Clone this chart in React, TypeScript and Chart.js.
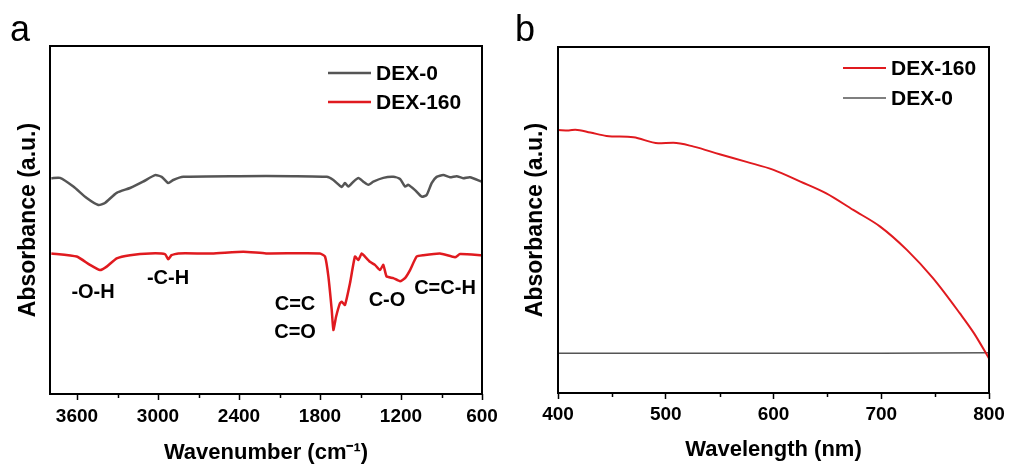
import React, { useEffect, useRef } from "react";
import { Chart, registerables } from "chart.js";

Chart.register(...registerables);

// ---------- Panel a: FTIR ----------
const dex0Wavenumbers = [3790, 3726, 3627, 3528, 3442, 3393, 3306, 3207, 3111, 3022, 2973, 2924, 2887, 2813, 2400, 2000, 1750, 1701, 1639, 1615, 1590, 1553, 1516, 1479, 1442, 1405, 1331, 1257, 1207, 1170, 1146, 1096, 1047, 1010, 973, 936, 887, 837, 788, 739, 690, 600];
const dex0Absorbance = [62.0, 62.1, 59.6, 56.3, 54.3, 54.9, 57.8, 59.2, 61.0, 62.9, 62.4, 60.6, 61.5, 62.4, 62.6, 62.6, 62.4, 61.5, 59.5, 60.6, 59.6, 61.0, 62.1, 61.0, 60.1, 61.0, 62.1, 62.4, 61.8, 59.6, 60.1, 58.6, 56.7, 57.2, 60.6, 62.4, 62.9, 62.3, 62.6, 62.0, 62.3, 61.0];

const dex160Wavenumbers = [3790, 3602, 3504, 3430, 3380, 3306, 3207, 3059, 2948, 2924, 2900, 2850, 2600, 2368, 2200, 1800, 1763, 1738, 1713, 1701, 1681, 1652, 1640, 1615, 1578, 1541, 1516, 1491, 1467, 1430, 1393, 1356, 1331, 1307, 1257, 1207, 1170, 1133, 1084, 1035, 911, 800, 763, 600];
const dex160Absorbance = [40.4, 39.5, 37.1, 35.6, 36.6, 39.0, 39.9, 40.4, 40.2, 38.7, 39.9, 40.4, 40.4, 40.9, 40.4, 40.4, 39.5, 33.8, 24.1, 18.4, 22.2, 26.1, 26.5, 25.6, 31.8, 39.5, 38.5, 40.4, 39.5, 38.0, 37.1, 35.6, 37.1, 33.8, 33.3, 32.4, 33.3, 35.6, 39.5, 39.9, 40.4, 39.3, 40.2, 39.9];

const ftirMajorTicks = [3600, 3000, 2400, 1800, 1200, 600];
const ftirMinorTicks = [3300, 2700, 2100, 1500, 900];

const ftirPeakLabels = ["-O-H", "-C-H", "C=C", "C=O", "C-O", "C=C-H"];
const ftirPeakWavenumbers = [3481, 2926, 1985, 1985, 1304, 874];
const ftirPeakLevels = [29.3, 33.3, 25.6, 17.8, 27.0, 30.2];

// ---------- Panel b: UV-vis ----------
const uvWavelengths160 = [400, 410, 416, 430, 445, 470, 493, 507, 526, 550, 575, 600, 625, 649, 674, 699, 724, 748, 773, 786, 800];
const uvDex160 = [76.0, 75.9, 76.1, 75.3, 74.3, 73.9, 72.2, 72.3, 71.2, 69.0, 66.8, 64.5, 61.1, 57.7, 52.9, 48.1, 41.3, 33.2, 23.0, 17.3, 10.0];
const uvWavelengths0 = [400, 500, 600, 700, 800];
const uvDex0 = [11.5, 11.5, 11.5, 11.5, 11.6];

const uvMajorTicks = [400, 500, 600, 700, 800];
const uvMinorTicks = [450, 550, 650, 750];

const GRAY = "#555555";
const RED = "#e01a1f";
const FONT = "'Liberation Sans', Arial, sans-serif";

type LegendItem = { label: string; color: string; width: number };

function makeDecorPlugin(opts: {
  letter: string;
  letterX: number;
  letterY: number;
  legend: LegendItem[];
  legendDx: number;
  legendDy: number[];
  minor: number[];
  notes?: { text: string; x: number; y: number }[];
}) {
  return {
    id: "decor-" + opts.letter,
    afterDatasetsDraw(chart: any) {
      const { ctx, chartArea } = chart;
      const xs = chart.scales.x;
      const ys = chart.scales.y;
      ctx.save();
      // frame
      ctx.strokeStyle = "#000";
      ctx.lineWidth = 2;
      ctx.strokeRect(chartArea.left, chartArea.top, chartArea.right - chartArea.left, chartArea.bottom - chartArea.top);
      // minor ticks
      ctx.lineWidth = 1.5;
      for (const v of opts.minor) {
        const px = Math.round(xs.getPixelForValue(v)) + 0.5;
        ctx.beginPath();
        ctx.moveTo(px, chartArea.bottom);
        ctx.lineTo(px, chartArea.bottom + 4);
        ctx.stroke();
      }
      // legend
      ctx.font = `bold 21px ${FONT}`;
      ctx.textBaseline = "middle";
      ctx.textAlign = "left";
      opts.legend.forEach((it, i) => {
        const lx = chartArea.left + opts.legendDx;
        const ly = chartArea.top + opts.legendDy[i];
        ctx.strokeStyle = it.color;
        ctx.lineWidth = it.width;
        ctx.beginPath();
        ctx.moveTo(lx, ly);
        ctx.lineTo(lx + 43, ly);
        ctx.stroke();
        ctx.fillStyle = "#000";
        ctx.fillText(it.label, lx + 48, ly + 1);
      });
      // peak annotations
      if (opts.notes) {
        ctx.font = `bold 20px ${FONT}`;
        ctx.textAlign = "center";
        ctx.fillStyle = "#000";
        for (const n of opts.notes) {
          ctx.fillText(n.text, xs.getPixelForValue(n.x), ys.getPixelForValue(n.y));
        }
      }
      // panel letter
      ctx.font = `36px ${FONT}`;
      ctx.textAlign = "center";
      ctx.textBaseline = "alphabetic";
      ctx.fillText(opts.letter, opts.letterX, opts.letterY);
      ctx.restore();
    },
  };
}

function baseScales(p: {
  min: number;
  max: number;
  reverse: boolean;
  major: number[];
  title: string;
  axisHeight: number;
  axisWidth: number;
  tickPad: number;
  titlePadBottom: number;
  yTitlePad: number;
}) {
  return {
    x: {
      type: "linear",
      min: p.min,
      max: p.max,
      reverse: p.reverse,
      border: { display: false },
      grid: { display: true, drawOnChartArea: false, drawTicks: true, tickLength: 6, tickColor: "#000", tickWidth: 1.5 },
      afterBuildTicks: (scale: any) => {
        scale.ticks = p.major.map((v) => ({ value: v }));
      },
      ticks: {
        color: "#000",
        padding: p.tickPad,
        maxRotation: 0,
        autoSkip: false,
        font: { family: FONT, size: 19, weight: "bold" },
        callback: (v: any) => String(v),
      },
      title: {
        display: true,
        text: p.title,
        color: "#000",
        font: { family: FONT, size: 22, weight: "bold" },
        padding: { top: 0, bottom: p.titlePadBottom },
      },
      afterFit: (scale: any) => {
        scale.height = p.axisHeight;
      },
    },
    y: {
      type: "linear",
      min: 0,
      max: 100,
      border: { display: false },
      grid: { display: false },
      ticks: { display: false },
      title: {
        display: true,
        text: "Absorbance (a.u.)",
        color: "#000",
        font: { family: FONT, size: 23, weight: "bold" },
        padding: { top: p.yTitlePad, bottom: 0 },
      },
      afterFit: (scale: any) => {
        scale.width = p.axisWidth;
      },
    },
  };
}

function toPoints(xs: number[], ys: number[]) {
  return xs.map((x, i) => ({ x, y: ys[i] }));
}

export default function App() {
  const refA = useRef<HTMLCanvasElement>(null);
  const refB = useRef<HTMLCanvasElement>(null);

  useEffect(() => {
    const chartA = new Chart(refA.current as HTMLCanvasElement, {
      type: "line",
      data: {
        datasets: [
          { label: "DEX-0", data: toPoints(dex0Wavenumbers, dex0Absorbance), borderColor: GRAY, borderWidth: 2.5, pointRadius: 0, tension: 0.2, fill: false },
          { label: "DEX-160", data: toPoints(dex160Wavenumbers, dex160Absorbance), borderColor: RED, borderWidth: 2.5, pointRadius: 0, tension: 0.15, fill: false },
        ],
      },
      options: {
        animation: false,
        responsive: false,
        maintainAspectRatio: false,
        layout: { padding: { left: 0, top: 46, right: 38, bottom: 0 } },
        plugins: { legend: { display: false }, tooltip: { enabled: false } },
        scales: baseScales({
          min: 600,
          max: 3800,
          reverse: true,
          major: ftirMajorTicks,
          title: "Wavenumber (cm\u207B\u00B9)",
          axisHeight: 73,
          axisWidth: 50,
          tickPad: 5,
          titlePadBottom: 1,
          yTitlePad: 15,
        }) as any,
      },
      plugins: [
        makeDecorPlugin({
          letter: "a",
          letterX: 20,
          letterY: 41,
          legend: [
            { label: "DEX-0", color: GRAY, width: 2.5 },
            { label: "DEX-160", color: RED, width: 2.5 },
          ],
          legendDx: 278,
          legendDy: [27, 56],
          minor: ftirMinorTicks,
          notes: ftirPeakLabels.map((t, i) => ({ text: t, x: ftirPeakWavenumbers[i], y: ftirPeakLevels[i] })),
        }),
      ],
    } as any);

    const chartB = new Chart(refB.current as HTMLCanvasElement, {
      type: "line",
      data: {
        datasets: [
          { label: "DEX-160", data: toPoints(uvWavelengths160, uvDex160), borderColor: RED, borderWidth: 2, pointRadius: 0, cubicInterpolationMode: "monotone", fill: false },
          { label: "DEX-0", data: toPoints(uvWavelengths0, uvDex0), borderColor: GRAY, borderWidth: 1.5, pointRadius: 0, tension: 0, fill: false },
        ],
      },
      options: {
        animation: false,
        responsive: false,
        maintainAspectRatio: false,
        layout: { padding: { left: 0, top: 47, right: 31, bottom: 0 } },
        plugins: { legend: { display: false }, tooltip: { enabled: false } },
        scales: baseScales({
          min: 400,
          max: 800,
          reverse: false,
          major: uvMajorTicks,
          title: "Wavelength (nm)",
          axisHeight: 74,
          axisWidth: 58,
          tickPad: 4,
          titlePadBottom: 4,
          yTitlePad: 22,
        }) as any,
      },
      plugins: [
        makeDecorPlugin({
          letter: "b",
          letterX: 25,
          letterY: 41,
          legend: [
            { label: "DEX-160", color: RED, width: 2 },
            { label: "DEX-0", color: GRAY, width: 1.5 },
          ],
          legendDx: 285,
          legendDy: [21, 51],
          minor: uvMinorTicks,
        }),
      ],
    } as any);

    return () => {
      chartA.destroy();
      chartB.destroy();
    };
  }, []);

  return (
    <div style={{ position: "absolute", left: 0, top: 0, width: 1009, height: 467, overflow: "hidden", background: "#fff" }}>
      <canvas ref={refA} width={520} height={467} style={{ position: "absolute", left: 0, top: 0, width: 520, height: 467 }} />
      <canvas ref={refB} width={520} height={467} style={{ position: "absolute", left: 500, top: 0, width: 520, height: 467 }} />
    </div>
  );
}
